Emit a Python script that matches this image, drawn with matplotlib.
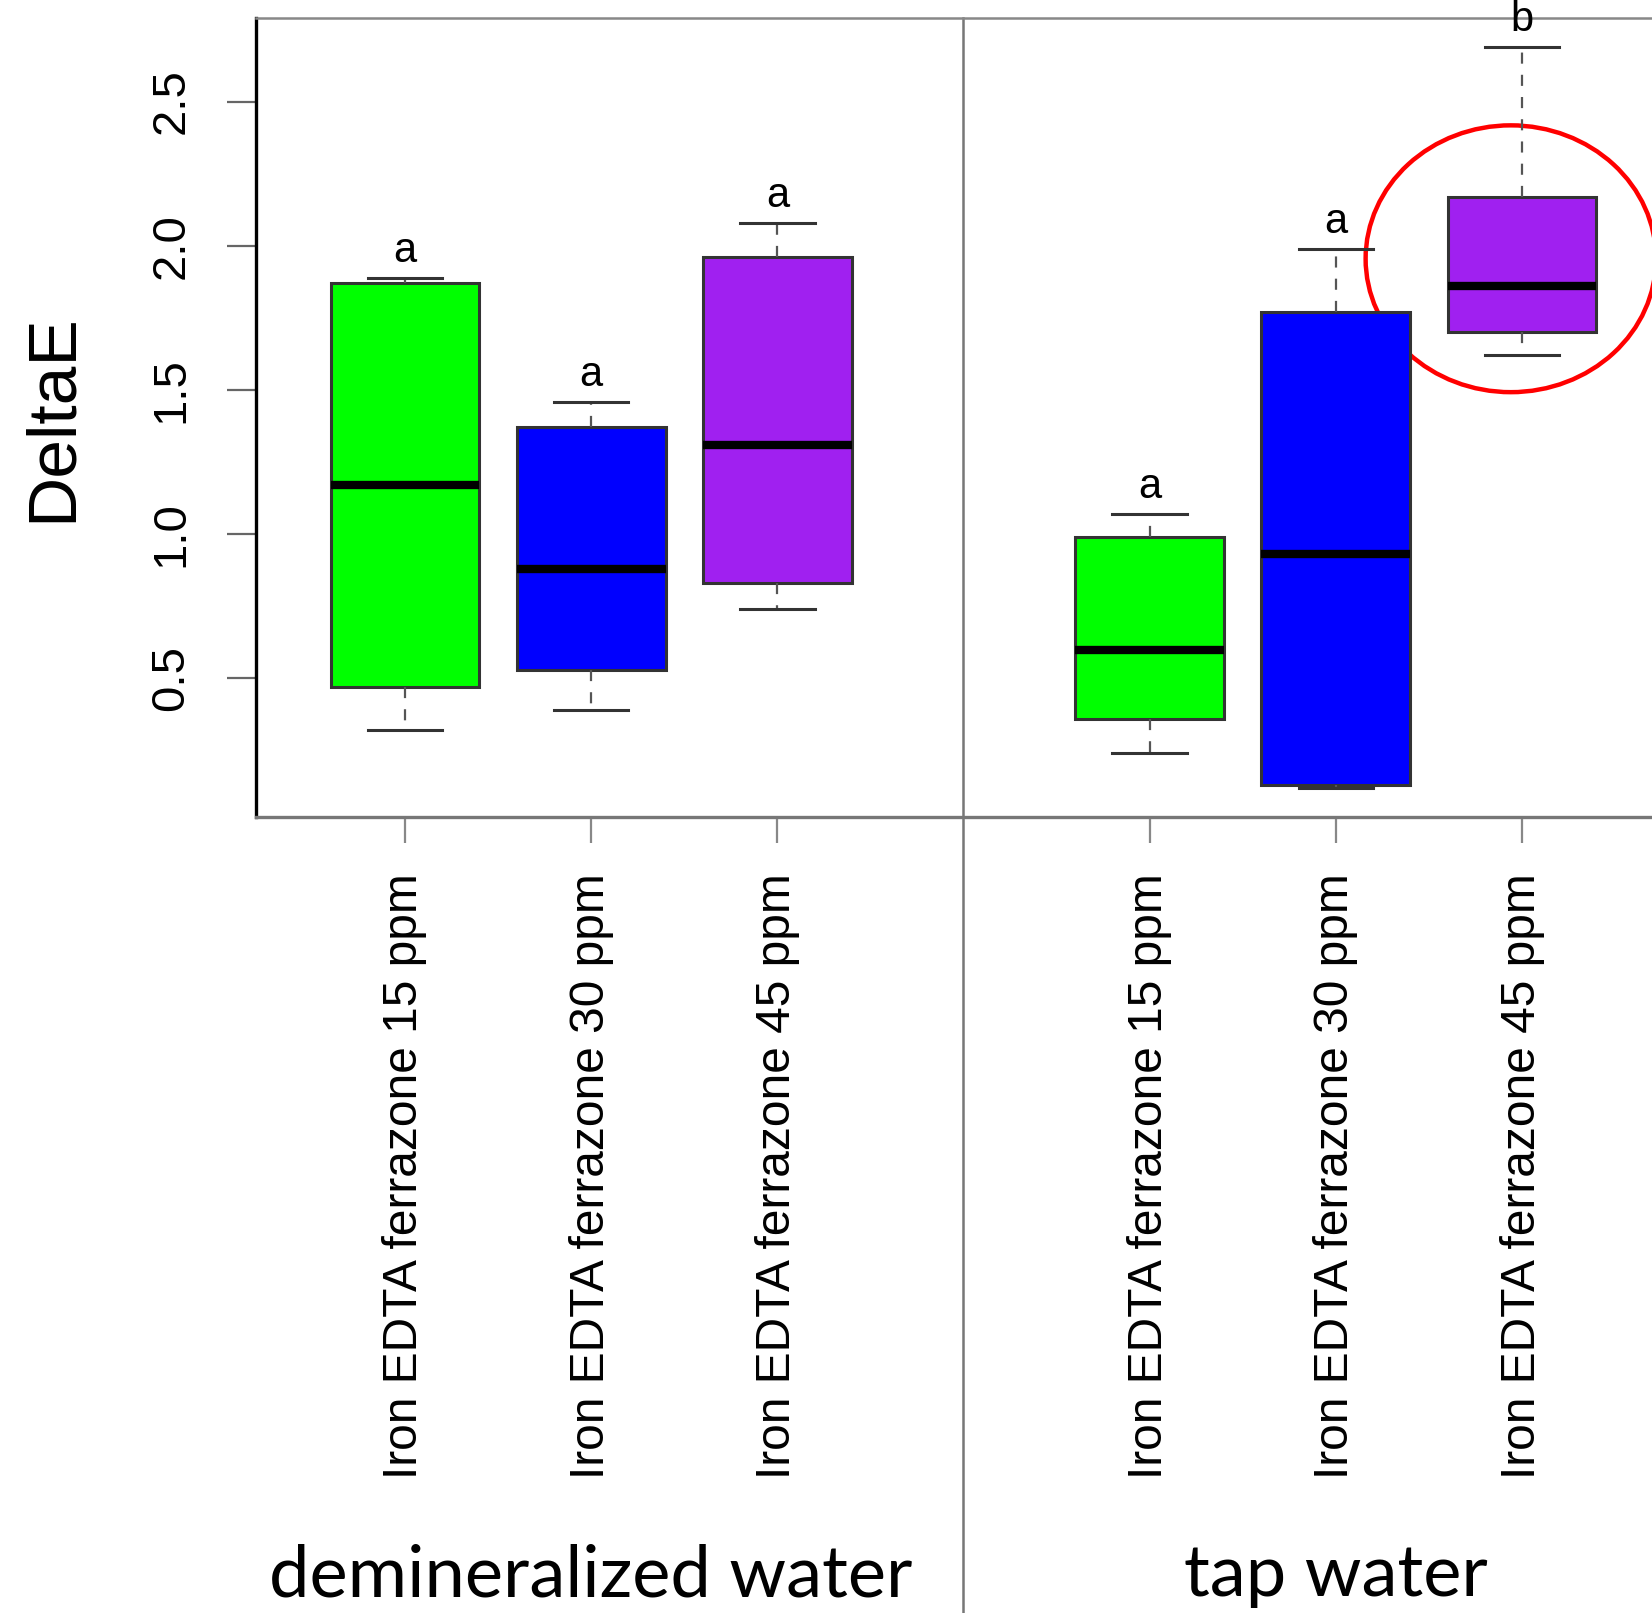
import matplotlib
matplotlib.use("Agg")
import matplotlib.pyplot as plt
import matplotlib.transforms as mtransforms
from matplotlib.patches import Ellipse

# データ
groups = ["demineralized water", "tap water"]
labels = [
    "Iron EDTA ferrazone 15 ppm",
    "Iron EDTA ferrazone 30 ppm",
    "Iron EDTA ferrazone 45 ppm",
] * 2
positions = [1, 2, 3, 5, 6, 7]
whislo = [0.32, 0.39, 0.74, 0.24, 0.12, 1.62]
q1 = [0.47, 0.53, 0.83, 0.36, 0.13, 1.70]
med = [1.17, 0.88, 1.31, 0.60, 0.93, 1.86]
q3 = [1.87, 1.37, 1.96, 0.99, 1.77, 2.17]
whishi = [1.89, 1.46, 2.08, 1.07, 1.99, 2.69]
letters = ["a", "a", "a", "a", "a", "b"]
colors = ["#00FF00", "#0000FF", "#A020F0"] * 2

plt.rcParams["font.family"] = ["Liberation Sans", "DejaVu Sans"]

fig = plt.figure(figsize=(16.52, 16.13), dpi=100)
ax = fig.add_axes([0.155, 0.4932, 0.879, 0.4957])

stats = []
for i in range(len(positions)):
    stats.append({
        "whislo": whislo[i], "q1": q1[i], "med": med[i],
        "q3": q3[i], "whishi": whishi[i], "fliers": [],
    })

bp = ax.bxp(
    stats, positions=positions, widths=0.8, patch_artist=True,
    showfliers=False,
    boxprops=dict(edgecolor="#333333", linewidth=2.2),
    medianprops=dict(color="black", linewidth=6, solid_capstyle="butt"),
    whiskerprops=dict(color="#555555", linewidth=1.6, linestyle=(0, (5, 5))),
    capprops=dict(color="#333333", linewidth=2.2),
    capwidths=0.4,
)
for patch, c in zip(bp["boxes"], colors):
    patch.set_facecolor(c)

# 有意差の文字
for p, top, s in zip(positions, whishi, letters):
    ax.annotate(s, (p, top), xytext=(0, 5), textcoords="offset points",
                ha="center", va="bottom", fontsize=30)

# 赤い丸
ax.add_patch(Ellipse((6.94, 1.955), 1.56, 0.925, fill=False,
                     edgecolor="#FF0000", linewidth=3.2, clip_on=False))

ax.set_xlim(0.2, 8.0)
ax.set_ylim(0.018, 2.79)

ax.set_yticks([0.5, 1.0, 1.5, 2.0, 2.5])
ax.set_yticklabels(["0.5", "1.0", "1.5", "2.0", "2.5"], rotation=90, va="center")
ax.set_xticks(positions)
ax.set_xticklabels(labels, rotation=90, va="top", ha="center")
ax.tick_params(axis="y", length=21, width=1.6, color="#666666", pad=24, labelsize=34)
ax.tick_params(axis="x", length=19, width=1.6, color="#888888", pad=21, labelsize=34.5)

ax.spines["left"].set_linewidth(2.4)
ax.spines["left"].set_color("black")
ax.spines["bottom"].set_linewidth(2.4)
ax.spines["bottom"].set_color("#777777")
ax.spines["top"].set_linewidth(1.8)
ax.spines["top"].set_color("#888888")
ax.spines["right"].set_visible(False)

# グループの区切り線
ax.axvline(4, ymin=-1.0, ymax=1.0, color="#777777", linewidth=1.8, clip_on=False)

fig.text(0.032, 0.741, "DeltaE", rotation=90, ha="center", va="center", fontsize=50)

trans = mtransforms.blended_transform_factory(ax.transData, fig.transFigure)
for xc, g in zip([2, 6], groups):
    ax.text(xc, 0.0105, g, transform=trans, clip_on=False,
            ha="center", va="baseline", fontsize=52, family=["Lato", "DejaVu Sans"])

fig.savefig("out.png", dpi=100)
